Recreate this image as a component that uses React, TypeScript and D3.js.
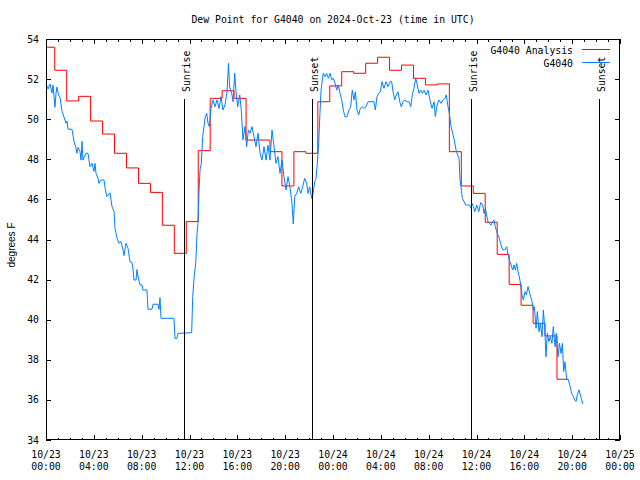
import React from "react";
import * as d3 from "d3";

// ---- Data (hours since 2024-10-23 00:00 UTC) ----
const analysisHours = [0, 0.73, 1.73, 2.73, 3.73, 4.73, 5.73, 6.73, 7.73, 8.73, 9.73, 10.73, 11.73, 12.73, 13.73, 14.73, 15.73, 16.73, 17.73, 18.73, 19.73, 20.73, 21.73, 22.73, 23.73, 24.73, 25.73, 26.73, 27.73, 28.73, 29.73, 30.73, 31.73, 32.73, 33.73, 34.73, 35.73, 36.73, 37.73, 38.73, 39.73, 40.73, 41.73, 42.73, 43.68];
const analysisValues = [53.59, 52.44, 50.91, 51.14, 49.91, 49.26, 48.30, 47.57, 46.80, 46.35, 44.71, 43.31, 44.89, 48.43, 51.04, 51.42, 51.04, 48.96, 48.96, 48.38, 46.67, 48.38, 48.30, 50.87, 51.66, 52.37, 52.29, 52.79, 53.09, 52.44, 52.70, 52.04, 51.71, 51.76, 48.38, 46.67, 46.30, 44.86, 43.26, 41.76, 40.72, 39.82, 39.19, 37.03, 37.03];

const obsHours = [0.00, 0.17, 0.33, 0.50, 0.59, 0.75, 0.84, 0.92, 1.05, 1.17, 1.34, 1.51, 1.67, 1.76, 1.84, 2.01, 2.17, 2.34, 2.51, 2.59, 2.68, 2.84, 2.93, 3.01, 3.09, 3.35, 3.51, 3.68, 3.85, 4.01, 4.10, 4.18, 4.35, 4.43, 4.60, 4.85, 4.93, 5.10, 5.35, 5.52, 5.69, 5.77, 5.94, 6.10, 6.27, 6.44, 6.52, 6.69, 6.86, 7.02, 7.19, 7.28, 7.36, 7.53, 7.61, 7.69, 7.86, 8.03, 8.11, 8.44, 8.53, 8.86, 8.95, 9.37, 9.45, 9.53, 9.62, 10.70, 10.79, 10.95, 11.04, 12.18, 12.27, 12.40, 12.52, 12.63, 12.71, 12.80, 12.88, 12.99, 13.10, 13.21, 13.32, 13.44, 13.55, 13.66, 13.80, 13.97, 14.13, 14.30, 14.47, 14.63, 14.80, 14.97, 15.14, 15.26, 15.36, 15.53, 15.64, 15.78, 15.89, 16.03, 16.20, 16.33, 16.47, 16.64, 16.78, 16.92, 17.06, 17.23, 17.39, 17.56, 17.73, 17.90, 18.06, 18.23, 18.40, 18.56, 18.73, 18.90, 19.07, 19.23, 19.40, 19.57, 19.74, 19.90, 20.07, 20.24, 20.40, 20.57, 20.68, 20.80, 20.96, 21.13, 21.30, 21.47, 21.63, 21.80, 21.91, 22.05, 22.22, 22.33, 22.47, 22.58, 22.69, 22.80, 22.91, 23.00, 23.14, 23.19, 23.33, 23.47, 23.61, 23.75, 23.89, 24.03, 24.17, 24.31, 24.44, 24.59, 24.73, 24.86, 25.00, 25.17, 25.34, 25.48, 25.61, 25.76, 25.87, 26.01, 26.15, 26.28, 26.43, 26.59, 26.76, 26.93, 27.26, 27.43, 27.54, 27.68, 27.82, 27.96, 28.10, 28.27, 28.43, 28.60, 28.77, 28.91, 29.02, 29.16, 29.29, 29.44, 29.58, 29.71, 29.85, 30.02, 30.19, 30.36, 30.50, 30.63, 30.77, 30.92, 31.05, 31.19, 31.33, 31.47, 31.61, 31.78, 31.94, 32.11, 32.28, 32.45, 32.56, 32.70, 32.86, 33.03, 33.20, 33.37, 33.47, 33.62, 33.73, 33.87, 34.01, 34.14, 34.29, 34.43, 34.54, 34.62, 34.75, 34.82, 34.96, 35.10, 35.43, 35.54, 35.63, 35.74, 35.86, 36.02, 36.19, 36.35, 36.52, 36.63, 36.74, 36.85, 36.96, 37.07, 37.21, 37.35, 37.46, 37.57, 37.69, 37.80, 37.91, 38.05, 38.19, 38.36, 38.53, 38.64, 38.74, 38.89, 39.03, 39.14, 39.25, 39.36, 39.47, 39.58, 39.70, 39.81, 39.92, 40.06, 40.17, 40.31, 40.45, 40.62, 40.76, 40.84, 40.98, 41.09, 41.23, 41.34, 41.48, 41.59, 41.70, 41.81, 41.92, 42.06, 42.17, 42.31, 42.42, 42.57, 42.67, 42.82, 42.93, 43.07, 43.18, 43.29, 43.40, 43.54, 43.68, 43.82, 43.96, 44.10, 44.21, 44.32, 44.43, 44.57, 44.68, 44.80, 44.88];
const obsValues = [51.76, 51.5, 51.76, 51.3, 51.7, 50.6, 51.3, 51.6, 51.2, 51.1, 50.4, 50.1, 49.8, 49.9, 49.5, 49.5, 49.5, 48.9, 48.55, 48.3, 48.6, 48.4, 47.96, 48.9, 47.96, 48.3, 48.3, 47.63, 47.8, 47.4, 47.8, 47.3, 47.05, 46.8, 46.97, 46.97, 46.6, 46.14, 46.33, 45.64, 45.39, 44.56, 44.06, 43.81, 43.9, 43.48, 43.2, 43.81, 43.56, 42.89, 42.85, 42.5, 41.98, 41.98, 42.5, 42.18, 41.73, 41.73, 41.48, 41.48, 40.52, 40.52, 40.77, 40.77, 40.52, 41.1, 40.07, 40.07, 39.07, 39.07, 39.32, 39.35, 41.15, 42.23, 42.8, 44.3, 44.8, 46.47, 47.47, 47.8, 49.13, 49.63, 50.12, 50.29, 49.79, 49.63, 50.54, 50.96, 50.62, 50.96, 50.54, 51.12, 50.46, 50.71, 51.37, 52.79, 51.6, 51.29, 50.87, 52.29, 51.37, 50.62, 51.21, 50.46, 48.96, 49.63, 48.63, 49.46, 49.3, 49.63, 49.13, 48.63, 49.3, 48.3, 47.96, 48.63, 47.96, 48.7, 47.96, 49.46, 48.63, 47.8, 48.13, 47.3, 47.96, 47.13, 46.47, 47.13, 46.63, 45.8, 44.77, 46.13, 46.3, 46.63, 46.3, 46.63, 47.05, 46.8, 46.3, 46.63, 46.05, 46.3, 46.88, 47.05, 47.8, 48.8, 50.29, 51.45, 52.12, 52.29, 52.12, 52.29, 52.04, 52.29, 51.96, 52.04, 51.79, 51.45, 51.71, 51.29, 50.96, 50.46, 50.12, 50.12, 50.46, 50.62, 51.45, 50.96, 51.37, 50.46, 50.21, 50.54, 50.62, 50.54, 50.62, 50.87, 50.87, 50.87, 50.46, 51.12, 51.29, 51.37, 51.87, 51.54, 51.87, 51.62, 51.87, 51.87, 51.37, 50.96, 51.21, 51.37, 50.87, 50.62, 50.87, 50.96, 50.87, 50.87, 50.62, 51.21, 51.54, 52.04, 51.71, 51.29, 51.45, 51.29, 51.45, 51.21, 51.45, 50.96, 50.54, 50.87, 50.12, 50.71, 50.96, 50.79, 50.96, 51.04, 51.21, 50.62, 50.29, 49.63, 49.3, 48.96, 48.46, 48.21, 48.05, 47.0, 46.4, 46.05, 45.89, 45.72, 45.72, 45.55, 45.8, 45.64, 45.39, 45.72, 45.39, 45.84, 45.72, 45.3, 45.55, 45.22, 44.89, 44.81, 44.72, 44.89, 44.97, 44.64, 44.39, 44.22, 44.06, 43.73, 43.48, 43.48, 43.64, 43.23, 42.98, 42.73, 42.48, 42.73, 42.48, 42.81, 42.4, 42.15, 41.73, 41.23, 40.98, 41.4, 41.23, 41.65, 41.32, 40.98, 40.48, 40.64, 39.57, 40.4, 39.4, 39.82, 39.15, 40.48, 39.65, 38.15, 39.32, 38.9, 39.15, 38.82, 39.65, 38.65, 39.32, 38.15, 38.82, 38.32, 38.82, 37.41, 37.9, 37.03, 37.0, 36.7, 36.33, 36.17, 36.0, 35.92, 36.25, 36.5, 36.25, 36.0, 35.8];

const sunLabels = ["Sunrise", "Sunset", "Sunrise", "Sunset"];
const sunTimes = ["2024-10-23T11:34:00Z", "2024-10-23T22:16:00Z", "2024-10-24T11:34:00Z", "2024-10-24T22:16:00Z"];

const yTicks = [34, 36, 38, 40, 42, 44, 46, 48, 50, 52, 54];
const seriesNames = ["G4040 Analysis", "G4040"];
const seriesColors = ["#ff0000", "#0080ff"];

const title = "Dew Point for G4040 on 2024-Oct-23 (time in UTC)";
const yLabel = "degrees F";

const BASE = Date.UTC(2024, 9, 23, 0, 0, 0);
const toDate = (h: number) => new Date(BASE + h * 3600e3);

export default function App() {
  const W = 640, H = 480;
  const left = 46, right = 620, top = 39, bottom = 440;
  const x = d3.scaleUtc().domain([new Date(BASE), new Date(Date.UTC(2024, 9, 25))]).range([left, right]);
  const y = d3.scaleLinear().domain([34, 54]).range([bottom, top]);
  const mono = "'DejaVu Sans Mono', 'Liberation Mono', monospace";
  const fs = 9.8;

  const majorX = x.ticks(d3.utcHour.every(4)!);
  const minorX = x.ticks(d3.utcHour.every(1)!);
  const fmtDate = d3.utcFormat("%m/%d");
  const fmtTime = d3.utcFormat("%H:%M");

  const analysis = analysisHours.map((h, i) => ({ t: toDate(h), v: analysisValues[i] }));
  const obs = obsHours.map((h, i) => ({ t: toDate(h), v: obsValues[i] }));

  const stepLine = d3.line<{ t: Date; v: number }>().x(d => x(d.t)).y(d => y(d.v)).curve(d3.curveStepAfter);
  const plainLine = d3.line<{ t: Date; v: number }>().x(d => x(d.t)).y(d => y(d.v));

  const px = (v: number) => Math.round(v) + 0.5;
  const majLen = 5, minLen = 2.5;

  return (
    <svg width={W} height={H} style={{ position: "fixed", left: 0, top: 0, background: "#fff" }} fontFamily={mono}>
      <rect x={0} y={0} width={W} height={H} fill="#fff" />
      <text x={(left + right) / 2} y={23} textAnchor="middle" fontSize={fs}>{title}</text>

      <defs>
        <clipPath id="clip"><rect x={left} y={top} width={right - left} height={bottom - top} /></clipPath>
      </defs>

      {/* data */}
      <g clipPath="url(#clip)">
        <path d={stepLine(analysis) || ""} fill="none" stroke={seriesColors[0]} strokeWidth={1} />
        <path d={plainLine(obs) || ""} fill="none" stroke={seriesColors[1]} strokeWidth={1} />
      </g>

      {/* sun lines */}
      {sunTimes.map((s, i) => {
        const xx = px(x(new Date(s)));
        return (
          <g key={i}>
            <line x1={xx} x2={xx} y1={99} y2={bottom} stroke="#000" strokeWidth={1} shapeRendering="crispEdges" />
            <text transform={`translate(${xx + 5},92) rotate(-90)`} textAnchor="start" fontSize={fs}>{sunLabels[i]}</text>
          </g>
        );
      })}

      {/* ticks */}
      <g stroke="#000" strokeWidth={1} shapeRendering="crispEdges">
        {minorX.map((d, i) => {
          const xx = px(x(d));
          const isMajor = d.getUTCHours() % 4 === 0;
          const len = isMajor ? majLen : minLen;
          return (
            <g key={i}>
              <line x1={xx} x2={xx} y1={bottom} y2={bottom - len} />
              <line x1={xx} x2={xx} y1={top} y2={top + len} />
            </g>
          );
        })}
        {yTicks.map((v, i) => {
          const yy = px(y(v));
          return (
            <g key={i}>
              <line x1={left} x2={left + majLen} y1={yy} y2={yy} />
              <line x1={right} x2={right - majLen} y1={yy} y2={yy} />
            </g>
          );
        })}
      </g>

      {/* tick labels */}
      {yTicks.map((v, i) => (
        <text key={i} x={39} y={y(v) + 3.5} textAnchor="end" fontSize={fs}>{v}</text>
      ))}
      {majorX.map((d, i) => (
        <g key={i}>
          <text x={x(d)} y={458} textAnchor="middle" fontSize={fs}>{fmtDate(d)}</text>
          <text x={x(d)} y={470} textAnchor="middle" fontSize={fs}>{fmtTime(d)}</text>
        </g>
      ))}

      {/* y label */}
      <text transform={`translate(15,245) rotate(-90)`} textAnchor="middle" fontSize={10} fontFamily="'Liberation Sans', Arial, sans-serif">{yLabel}</text>

      {/* legend */}
      {seriesNames.map((n, i) => (
        <g key={i}>
          <text x={573} y={54 + i * 13} textAnchor="end" fontSize={fs}>{n}</text>
          <line x1={582} x2={610} y1={49.5 + i * 13} y2={49.5 + i * 13} stroke={seriesColors[i]} strokeWidth={1} shapeRendering="crispEdges" />
        </g>
      ))}

      {/* frame */}
      <rect x={left + 0.5} y={top + 0.5} width={right - left - 1} height={bottom - top - 1} fill="none" stroke="#000" strokeWidth={1} shapeRendering="crispEdges" />
    </svg>
  );
}
